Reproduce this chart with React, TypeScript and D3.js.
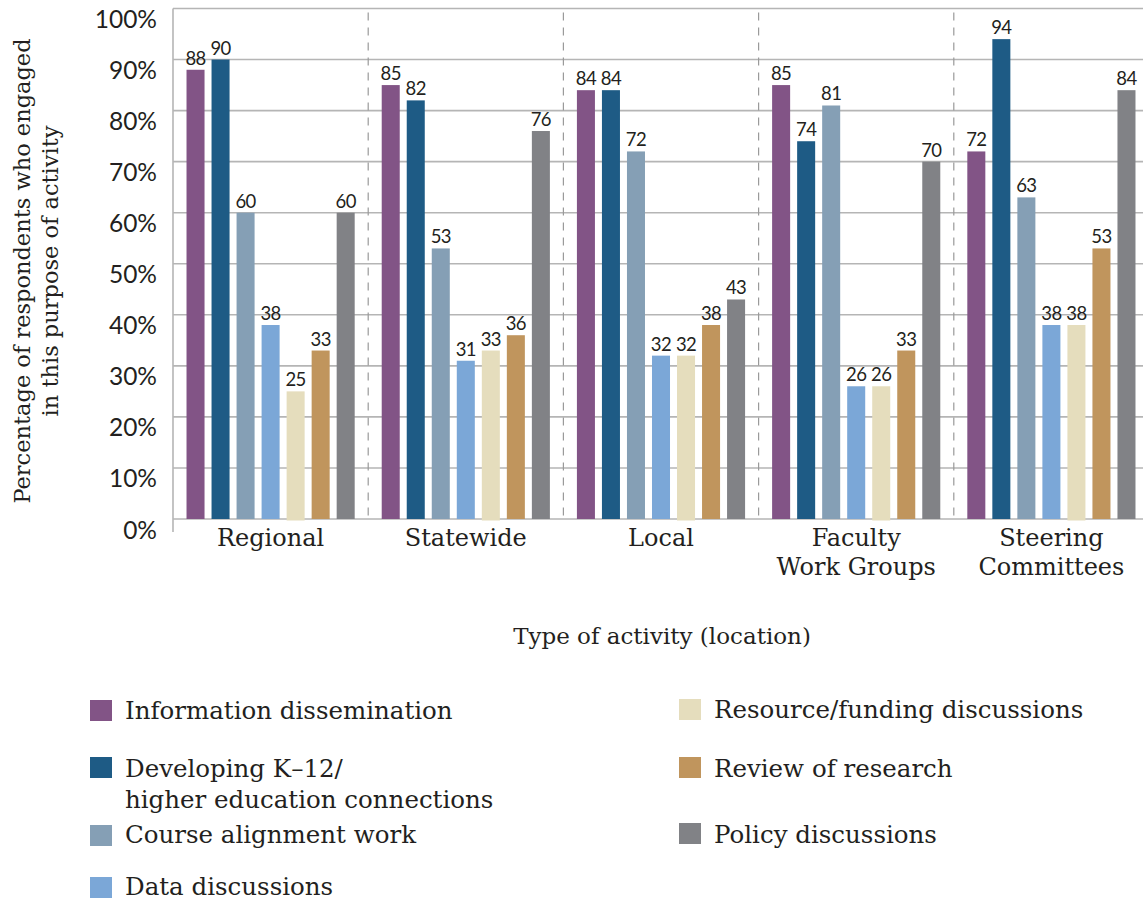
import React from "react";
import * as d3 from "d3";

const categories = ["Regional", "Statewide", "Local", "Faculty\nWork Groups", "Steering\nCommittees"];
const seriesNames = [
  "Information dissemination",
  "Developing K–12/\nhigher education connections",
  "Course alignment work",
  "Data discussions",
  "Resource/funding discussions",
  "Review of research",
  "Policy discussions",
];
const seriesColors = ["#825486", "#1e5b85", "#859fb5", "#7ba7d7", "#e5ddbd", "#c0955d", "#818286"];
const infoDissemination = [88, 85, 84, 85, 72];
const developingK12 = [90, 82, 84, 74, 94];
const courseAlignment = [60, 53, 72, 81, 63];
const dataDiscussions = [38, 31, 32, 26, 38];
const resourceFunding = [25, 33, 32, 26, 38];
const reviewResearch = [33, 36, 38, 33, 53];
const policyDiscussions = [60, 76, 43, 70, 84];
const seriesValues = [infoDissemination, developingK12, courseAlignment, dataDiscussions, resourceFunding, reviewResearch, policyDiscussions];
const yTicks = [0, 10, 20, 30, 40, 50, 60, 70, 80, 90, 100];

const SERIF = "'DejaVu Serif', serif";
const SANS = "Lato, 'Open Sans', sans-serif";
const TXT = "#231f20";

// legend layout: [column x, square top, text baselines]
const legendPos = [
  { x: 90, sq: 700, base: [719] },
  { x: 90, sq: 757, base: [777, 808] },
  { x: 90, sq: 825, base: [843] },
  { x: 90, sq: 877, base: [895] },
  { x: 679, sq: 699, base: [718] },
  { x: 679, sq: 757, base: [777] },
  { x: 679, sq: 823, base: [843] },
];

export default function App() {
  const left = 173;
  const groupW = 195.2;
  const x0 = d3.scaleBand<number>().domain(d3.range(categories.length)).range([left, left + groupW * categories.length]).padding(0);
  const x1 = d3.scaleBand<number>().domain(d3.range(seriesNames.length)).range([0, x0.bandwidth()]).paddingInner(0.28).paddingOuter(0.54);
  const y = d3.scaleLinear().domain([0, 100]).range([519, 8.5]);

  return (
    <svg width={1143} height={901} style={{ position: "absolute", left: 0, top: 0, background: "#fff" }}>
      {/* gridlines */}
      {yTicks.map((t) => (
        <line key={"g" + t} x1={left} x2={1143} y1={y(t)} y2={y(t)} stroke="#b5b5b5" strokeWidth={1.6} />
      ))}
      {/* dashed separators */}
      {categories.slice(1).map((_, i) => (
        <line key={"s" + i} x1={x0(i + 1)!} x2={x0(i + 1)!} y1={y(100) + 4} y2={y(0)} stroke="#9a9a9a" strokeWidth={1.2} strokeDasharray="8,7" />
      ))}
      {/* left axis */}
      <line x1={left} x2={left} y1={y(100)} y2={532} stroke="#b5b5b5" strokeWidth={1.6} />
      {/* y tick labels */}
      {yTicks.map((t) => (
        <text key={"t" + t} x={157} y={y(t) + 10} textAnchor="end" dominantBaseline="central" fontFamily={SANS} fontSize={24.5} fill={TXT}>
          {t + "%"}
        </text>
      ))}
      {/* bars */}
      {categories.map((c, ci) => (
        <g key={"c" + ci} transform={`translate(${x0(ci)},0)`}>
          {seriesValues.map((vals, si) => (
            <g key={"b" + si}>
              <rect x={x1(si)} y={y(vals[ci])} width={x1.bandwidth()} height={y(0) - y(vals[ci]) + (si === 4 ? 1.5 : 0)} fill={seriesColors[si]} />
              <text x={x1(si)! + x1.bandwidth() / 2} y={y(vals[ci]) - 5} textAnchor="middle" fontFamily={SANS} fontSize={18.5} letterSpacing={-0.6} fill={TXT}>
                {vals[ci]}
              </text>
            </g>
          ))}
          {c.split("\n").map((line, li) => (
            <text key={"cl" + li} x={x0.bandwidth() / 2} y={546 + li * 29} textAnchor="middle" fontFamily={SERIF} fontSize={24} fill={TXT}>
              {line}
            </text>
          ))}
        </g>
      ))}
      {/* axis titles */}
      <text x={662} y={644} textAnchor="middle" fontFamily={SERIF} fontSize={23} fill={TXT}>
        Type of activity (location)
      </text>
      <g transform="translate(0,271) rotate(-90)">
        <text x={0} y={30} textAnchor="middle" fontFamily={SERIF} fontSize={22.5} fill={TXT}>
          Percentage of respondents who engaged
        </text>
        <text x={0} y={58} textAnchor="middle" fontFamily={SERIF} fontSize={22.5} fill={TXT}>
          in this purpose of activity
        </text>
      </g>
      {/* legend */}
      {seriesNames.map((name, si) => (
        <g key={"l" + si}>
          <rect x={legendPos[si].x} y={legendPos[si].sq} width={22} height={21} fill={seriesColors[si]} />
          {name.split("\n").map((line, li) => (
            <text key={li} x={legendPos[si].x + 35} y={legendPos[si].base[li]} fontFamily={SERIF} fontSize={24.5} fill={TXT}>
              {line}
            </text>
          ))}
        </g>
      ))}
    </svg>
  );
}
